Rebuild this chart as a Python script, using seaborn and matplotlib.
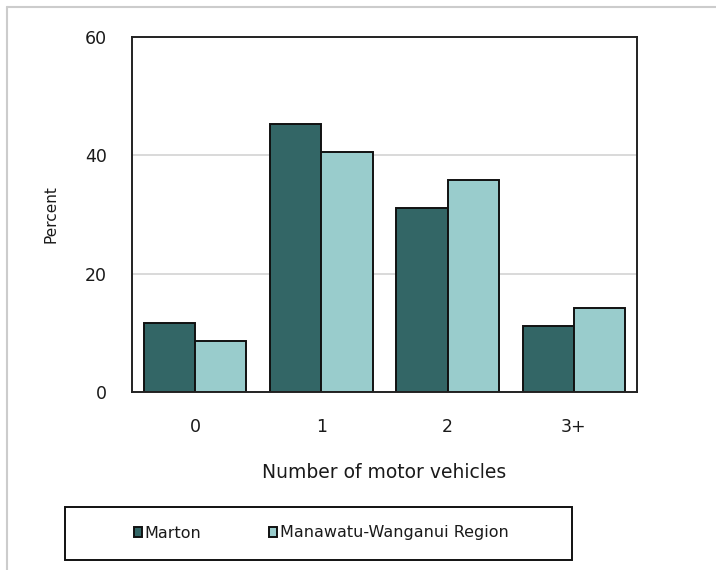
import pandas as pd
import seaborn as sns
import matplotlib.pyplot as plt
from matplotlib.lines import Line2D
from matplotlib.patches import Rectangle

# --- Data ---
categories = ['0', '1', '2', '3+']
marton = [11.7, 45.3, 31.1, 11.1]
region = [8.7, 40.5, 35.9, 14.2]
series_names = ['Marton', 'Manawatu-Wanganui Region']

palette = {'Marton': '#336666', 'Manawatu-Wanganui Region': '#99CCCC'}

df = pd.DataFrame({
    'Vehicles': categories * 2,
    'Percent': marton + region,
    'Area': [series_names[0]] * len(categories) + [series_names[1]] * len(categories),
})

sns.set_theme(style='white')
plt.rcParams['font.family'] = ['DejaVu Sans']

W, H = 716, 570
fig = plt.figure(figsize=(W / 100, H / 100), dpi=100)
ax = fig.add_axes([132 / W, 1 - 392 / H, 505 / W, 355 / H])

sns.barplot(data=df, x='Vehicles', y='Percent', hue='Area', order=categories,
            hue_order=series_names, palette=palette, width=0.81, saturation=1,
            edgecolor='#111111', linewidth=1.4, ax=ax, legend=True)

ax.set_ylim(0, 60)
ax.set_yticks([0, 20, 40, 60])
ax.set_xlim(-0.5, len(categories) - 0.5)
ax.yaxis.grid(True, color='#d9d9d9', linewidth=1.4)
ax.set_axisbelow(True)
for s in ax.spines.values():
    s.set_visible(True)
    s.set_color('#222222')
    s.set_linewidth(1.4)

ax.tick_params(axis='both', length=0, labelsize=12.5, colors='#1a1a1a')
ax.tick_params(axis='x', pad=19)
ax.tick_params(axis='y', pad=18)
ax.set_xlabel('Number of motor vehicles', fontsize=13.5, labelpad=19, color='#1a1a1a')
ax.set_ylabel('Percent', fontsize=11, labelpad=19, color='#1a1a1a')

# legend in a box below the plot
handles, labels = ax.get_legend_handles_labels()
ax.get_legend().remove()
fig.add_artist(Rectangle((65 / W, 1 - 560 / H), 507 / W, 53 / H, transform=fig.transFigure,
                         facecolor='white', edgecolor='#111111', linewidth=1.4))
leg = fig.legend(handles, labels, loc='center', ncol=2,
                 bbox_to_anchor=(321 / W, 1 - 533 / H), frameon=False, fontsize=11.5,
                 handlelength=0.55, handleheight=0.55, handletextpad=0.15,
                 columnspacing=4.2, borderaxespad=0)
for t in leg.get_texts():
    t.set_color('#1a1a1a')

# light frame on the left and top edges of the figure
fig.add_artist(Line2D([7 / W, 7 / W], [0, 1 - 7 / H], color='#cccccc', lw=1.5,
                      transform=fig.transFigure))
fig.add_artist(Line2D([7 / W, 1], [1 - 7 / H, 1 - 7 / H], color='#cccccc', lw=1.5,
                      transform=fig.transFigure))

plt.savefig('out.png', dpi=100)
plt.close()
